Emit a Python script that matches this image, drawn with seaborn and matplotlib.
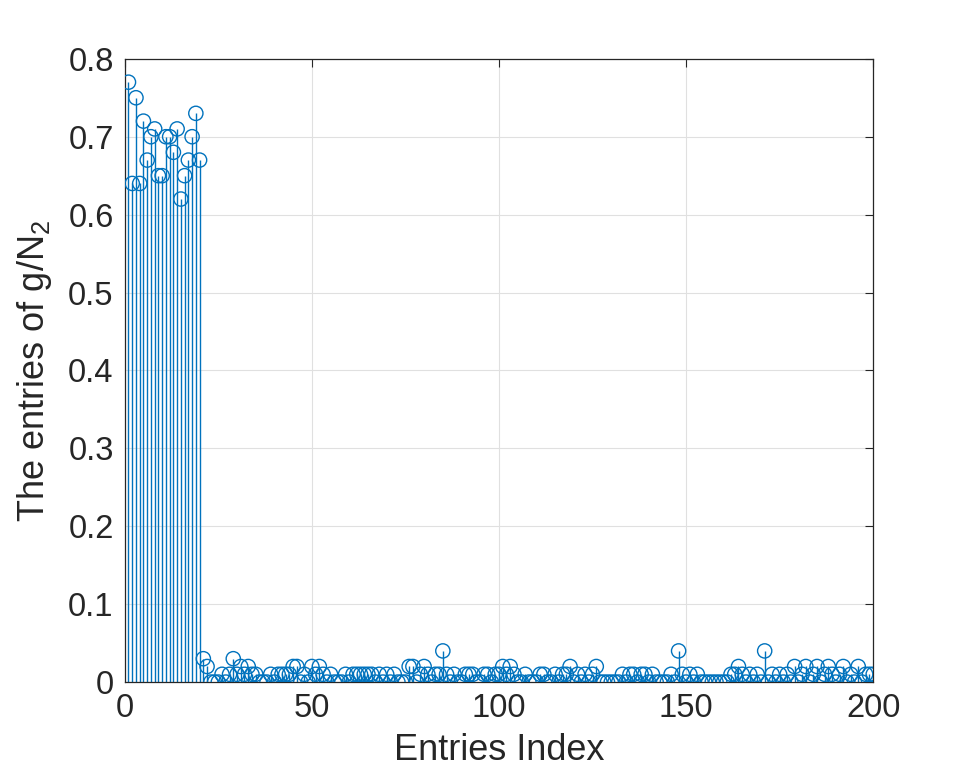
import numpy as np
import pandas as pd
import seaborn as sns
from matplotlib import pyplot as plt

# the first 20 entries (large) and the remaining 180 entries (near zero)
head_values = [0.77, 0.64, 0.75, 0.64, 0.72, 0.67, 0.70, 0.71, 0.65, 0.65,
               0.70, 0.70, 0.68, 0.71, 0.62, 0.65, 0.67, 0.70, 0.73, 0.67]
tail_values = [
    0.03, 0.02, 0, 0, 0, 0.01, 0, 0.01, 0.03, 0.01,          # 21-30
    0.02, 0.01, 0.02, 0.01, 0.01, 0, 0, 0, 0.01, 0,          # 31-40
    0.01, 0.01, 0.01, 0.01, 0.02, 0.02, 0, 0.01, 0, 0.02,    # 41-50
    0.01, 0.02, 0.01, 0, 0.01, 0, 0, 0, 0.01, 0,             # 51-60
    0.01, 0.01, 0.01, 0.01, 0.01, 0.01, 0, 0.01, 0, 0.01,    # 61-70
    0, 0.01, 0, 0, 0, 0.02, 0.02, 0, 0.01, 0.02,             # 71-80
    0.01, 0, 0.01, 0.01, 0.04, 0.01, 0, 0.01, 0, 0,          # 81-90
    0.01, 0.01, 0.01, 0, 0, 0.01, 0.01, 0, 0.01, 0.01,       # 91-100
    0.02, 0.01, 0.02, 0.01, 0, 0, 0.01, 0, 0, 0,             # 101-110
    0.01, 0.01, 0, 0, 0.01, 0, 0.01, 0.01, 0.02, 0,          # 111-120
    0.01, 0, 0.01, 0, 0.01, 0.02, 0, 0, 0, 0,                # 121-130
    0, 0, 0.01, 0, 0.01, 0.01, 0, 0.01, 0.01, 0,             # 131-140
    0.01, 0, 0, 0, 0, 0.01, 0, 0.04, 0.01, 0,                # 141-150
    0.01, 0, 0.01, 0, 0, 0, 0, 0, 0, 0,                      # 151-160
    0, 0.01, 0.01, 0.02, 0.01, 0, 0.01, 0, 0.01, 0,          # 161-170
    0.04, 0, 0.01, 0, 0.01, 0, 0.01, 0, 0.02, 0,             # 171-180
    0.01, 0.02, 0, 0.01, 0.02, 0, 0.01, 0.02, 0.01, 0,       # 181-190
    0.01, 0.02, 0, 0.01, 0, 0.02, 0, 0.01, 0.01, 0.01,       # 191-200
]
entries = head_values + tail_values
index = np.arange(1, len(entries) + 1)

x_ticks = [0, 50, 100, 150, 200]
y_ticks = [0, 0.1, 0.2, 0.3, 0.4, 0.5, 0.6, 0.7, 0.8]
y_tick_labels = ["0", "0.1", "0.2", "0.3", "0.4", "0.5", "0.6", "0.7", "0.8"]

df = pd.DataFrame({"index": index, "value": entries})

sns.set_theme(style="whitegrid")
plt.rcParams['font.family'] = ['Liberation Sans', 'DejaVu Sans']
plt.rcParams['mathtext.fontset'] = 'custom'
plt.rcParams['mathtext.rm'] = 'Liberation Sans'
plt.rcParams['mathtext.it'] = 'Liberation Sans'

blue = "#0072BD"
fig = plt.figure(figsize=(9.67, 7.84), dpi=100)
ax = fig.add_axes([0.129, 0.130, 0.774, 0.795])

# stems, then open circle heads
ax.vlines(df["index"], 0, df["value"], color=blue, linewidth=1.0, zorder=2)
sns.scatterplot(data=df, x="index", y="value", ax=ax, marker="o", s=105,
                facecolor="none", edgecolor=blue, linewidth=1.0, zorder=3)

ax.set_xlim(0, 200)
ax.set_ylim(0, 0.8)
ax.set_xticks(x_ticks)
ax.set_yticks(y_ticks)
ax.set_yticklabels(y_tick_labels)
ax.grid(True, color="#e0e0e0", linewidth=0.8)
ax.tick_params(axis="both", direction="in", length=6, width=0.8, labelsize=23.5,
               colors="#262626", top=True, right=True, pad=8)
for spine in ax.spines.values():
    spine.set_color("#262626")
    spine.set_linewidth(0.9)

ax.set_xlabel("Entries Index", fontsize=26, color="#262626", labelpad=6)
ax.set_ylabel("The entries of g/N$_2$", fontsize=26, color="#262626", labelpad=10)

fig.savefig("out.png", dpi=100)
